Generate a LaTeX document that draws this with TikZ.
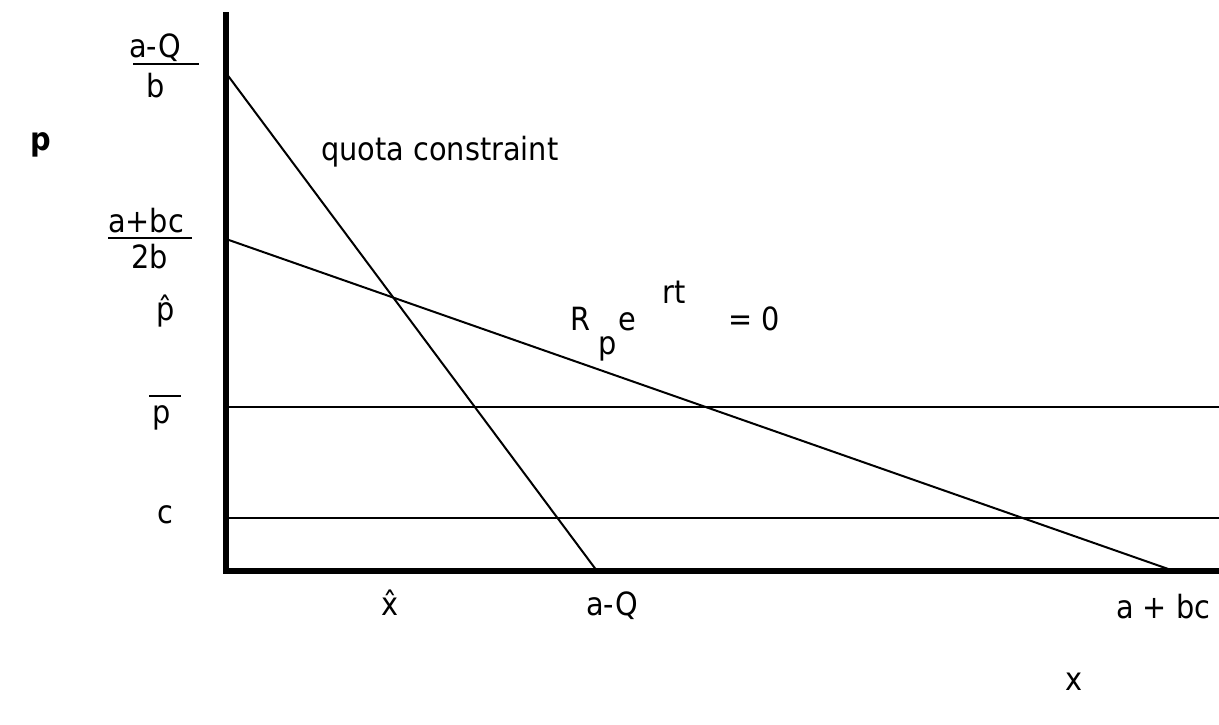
\documentclass[tikz,border=0pt]{standalone}
\usepackage{fontspec}
\setmainfont{DejaVu Sans}[FakeStretch=0.9]
\begin{document}
\begin{tikzpicture}[x=1pt,y=-1pt,
  axisline/.style={line width=6pt},
  curveline/.style={line width=2pt},
  hline/.style={line width=1.8pt},
  lbl/.style={inner sep=0pt,anchor=base west,font=\fontsize{32}{36}\selectfont},
  barline/.style={line width=2pt}]
\useasboundingbox (0,0) rectangle (1219,724);
% coordinates
\coordinate (ytop) at (226,12);
\coordinate (ybot) at (226,574);
\coordinate (xl) at (223,571);
\coordinate (xr) at (1219,571);
\coordinate (qa) at (226,73);
\coordinate (qb) at (597,571);
\coordinate (ra) at (226,239);
\coordinate (rb) at (1174,571);
\coordinate (pba) at (226,407);
\coordinate (pbb) at (1219,407);
\coordinate (ca) at (226,518);
\coordinate (cb) at (1219,518);
% lines
\draw[hline] (pba) -- (pbb);
\draw[hline] (ca) -- (cb);
\draw[curveline] (qa) -- (qb);
\draw[curveline] (ra) -- (rb);
\draw[axisline] (ytop) -- (ybot);
\draw[axisline] (xl) -- (xr);
% left labels
\node[lbl,font=\fontsize{32}{36}\selectfont\bfseries] (plab) at (30,150) {p};
\node[lbl] (aQn) at (129,57) {a-Q};
\node[lbl] (aQd) at (146,97) {b};
\draw[barline] (133,64) -- (199,64);
\node[lbl] (abcn) at (108,232) {a+bc};
\node[lbl] (abcd) at (131,268) {2b};
\draw[barline] (108,238) -- (192,238);
\node[lbl] (phat) at (156,320) {\^{p}};
\node[lbl] (pbar) at (152,423) {p};
\draw[barline] (149,396) -- (181,396);
\node[lbl] (clab) at (157,523) {c};
% inner labels
\node[lbl] (quota) at (321,160) {quota constraint};
\node[lbl] (Rlab) at (570,330) {R};
\node[lbl] (plow) at (598,354) {p};
\node[lbl] (elab) at (618,330) {e};
\node[lbl] (rtlab) at (662,303) {rt};
\node[lbl] (eq0) at (728,330) {= 0};
% bottom labels
\node[lbl] (xhat) at (381,615) {\^{x}};
\node[lbl] (aQx) at (586,615) {a-Q};
\node[lbl] (abcx) at (1116,618) {a + bc};
\node[lbl] (xlab) at (1065,690) {x};
\end{tikzpicture}
\end{document}
